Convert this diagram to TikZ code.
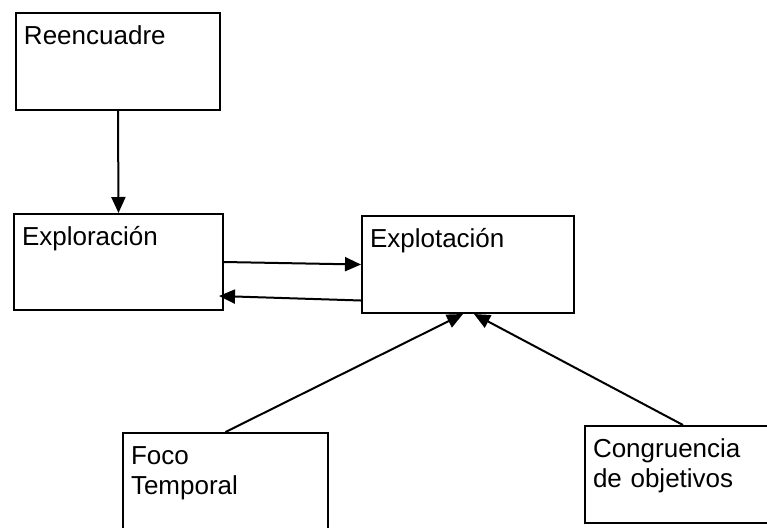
\documentclass[tikz,border=0pt]{standalone}
\usepackage{fontspec}
\setmainfont{Liberation Sans}
\usetikzlibrary{arrows.meta}

\begin{document}
\begin{tikzpicture}[x=0.5pt,y=-0.5pt,
    caja/.style={draw,line width=1pt,anchor=north west,align=left,
        inner xsep=4pt,inner ysep=0pt,text height=15.5pt,
        font=\fontsize{13}{15}\selectfont},
    flecha/.style={line width=1pt,-{Triangle[length=8pt,width=7pt]}}]
    \useasboundingbox (0,0) rectangle (767,527);
    \node[caja,text width=94pt,text depth=33pt] (reencuadre) at (15,12) {Reencuadre};
    \node[caja,text width=96.5pt,text depth=32.5pt] (exploracion) at (13,213) {Exploración};
    \node[caja,text width=98pt,text depth=33pt] (explotacion) at (361,215) {Explotación};
    \node[caja,text width=94.5pt,text depth=33.5pt] (foco) at (122,432) {Foco\\Temporal};
    \node[caja,text width=90pt,text depth=33pt] (congruencia) at (584,425) {Congruencia\\de objetivos};
    \draw[flecha] (reencuadre.south) -- (exploracion.north);
    \draw[flecha] (exploracion.east) -- (explotacion.west);
    \draw[flecha] ([yshift=-18pt]explotacion.west) -- ([xshift=-2.5pt,yshift=-17pt]exploracion.east);
    \draw[flecha] (foco.north) -- ([xshift=-2.5pt]explotacion.south);
    \draw[flecha] (congruencia.north) -- ([xshift=3pt]explotacion.south);
\end{tikzpicture}
\end{document}
